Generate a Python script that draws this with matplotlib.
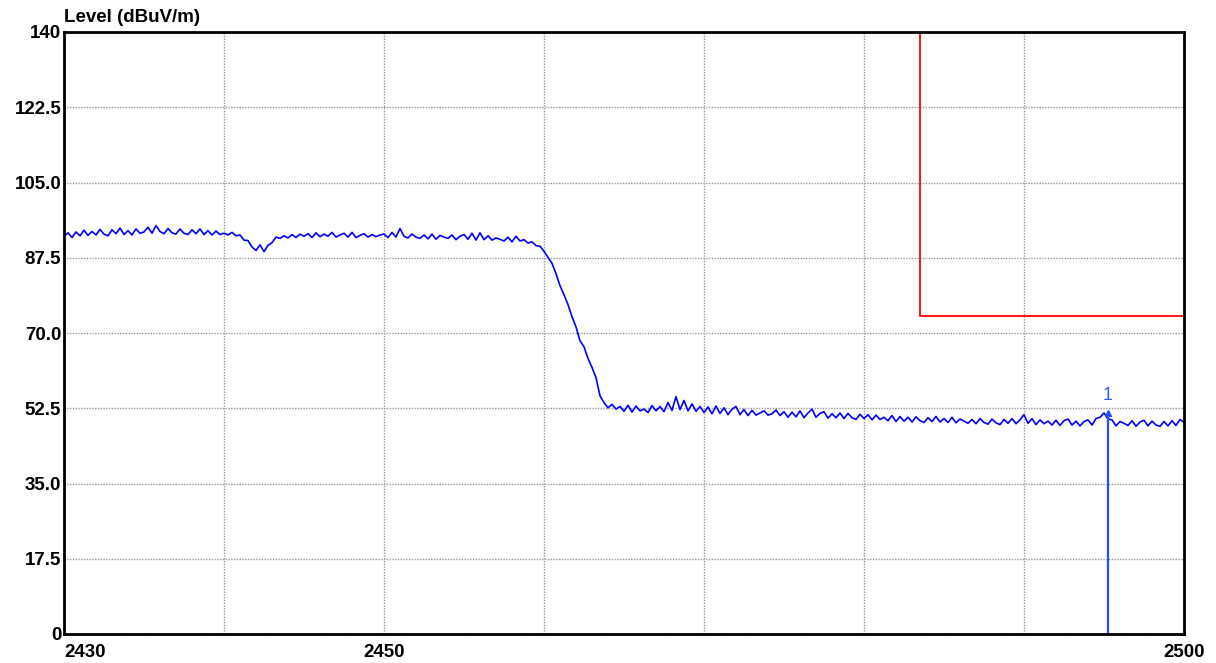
import numpy as np
import matplotlib.pyplot as plt

# Sweep: 2430-2500 MHz, one reading every 0.25 MHz
freq_start = 2430.0
freq_step = 0.25
level = [
    # 2430 - 2434.75
    92.4, 93.3, 92.2, 93.5, 92.6, 93.9, 92.7, 93.6, 92.8, 94.1, 93.0, 92.6, 94.0, 93.1, 94.4, 92.9, 93.8, 92.8, 94.2, 93.2,
    # 2435 - 2439.75
    93.5, 94.6, 93.2, 95.0, 93.6, 93.1, 94.3, 93.3, 93.0, 94.2, 93.2, 92.9, 94.0, 93.1, 94.2, 92.9, 93.8, 92.8, 93.7, 92.9,
    # 2440 - 2444.75
    93.2, 92.8, 93.4, 92.6, 92.8, 91.6, 91.5, 90.0, 89.2, 90.5, 88.9, 90.4, 91.0, 92.3, 92.0, 92.6, 92.1, 92.9, 92.2, 93.0,
    # 2445 - 2449.75
    92.5, 93.1, 92.2, 93.3, 92.4, 93.0, 92.5, 93.4, 92.3, 92.8, 93.2, 92.3, 93.4, 92.2, 92.7, 93.1, 92.3, 92.9, 92.4, 92.8,
    # 2450 - 2454.75
    93.0, 92.2, 93.4, 92.3, 94.3, 92.5, 92.1, 93.0, 92.3, 92.0, 92.8, 91.9, 93.0, 91.8, 92.7, 92.3, 92.0, 92.8, 91.7, 92.5,
    # 2455 - 2459.75
    92.9, 91.8, 93.2, 91.6, 93.3, 91.7, 92.6, 91.6, 92.1, 91.8, 91.4, 92.3, 91.2, 92.5, 91.4, 91.7, 90.9, 91.2, 90.3, 90.2,
    # 2460 - 2464.75
    89.0, 87.6, 86.2, 83.8, 81.0, 78.9, 76.6, 73.8, 71.4, 68.2, 66.8, 64.1, 62.0, 59.6, 55.4, 53.8, 52.6, 53.4, 52.3, 52.9,
    # 2465 - 2469.75
    51.8, 53.2, 51.6, 53.0, 51.9, 52.3, 51.5, 53.1, 51.9, 52.9, 51.7, 53.8, 52.0, 55.2, 52.2, 54.3, 51.9, 53.5, 51.8, 52.9,
    # 2470 - 2474.75
    51.5, 52.8, 51.2, 53.0, 51.3, 52.6, 51.0, 52.3, 52.9, 51.0, 52.2, 50.8, 52.0, 50.9, 51.4, 51.9, 50.9, 51.2, 52.1, 50.8,
    # 2475 - 2479.75
    51.7, 50.4, 51.6, 50.5, 51.9, 50.3, 51.4, 52.3, 50.4, 51.3, 51.7, 50.2, 51.2, 50.3, 51.4, 50.1, 51.3, 50.3, 49.9, 51.1,
    # 2480 - 2484.75
    50.1, 51.0, 49.8, 50.9, 49.9, 50.4, 49.6, 50.8, 49.4, 50.6, 49.5, 50.4, 49.3, 50.5, 49.6, 49.2, 50.3, 49.4, 50.6, 49.3,
    # 2485 - 2489.75
    50.1, 49.2, 50.4, 49.1, 50.0, 49.5, 49.0, 49.9, 48.9, 50.1, 49.2, 48.8, 50.0, 49.1, 48.7, 49.9, 49.0, 50.1, 48.9, 49.8,
    # 2490 - 2494.75
    51.0, 49.0, 50.1, 48.7, 49.8, 48.9, 49.5, 48.6, 49.7, 48.5, 49.6, 50.0, 48.6, 49.5, 48.4, 49.4, 49.8, 48.6, 50.1, 50.4,
    # 2495 - 2499.75
    51.4, 50.0, 49.8, 48.4, 49.4, 49.0, 48.5, 49.6, 48.3, 49.3, 49.7, 48.4, 49.5, 48.6, 48.3, 49.4, 48.4, 49.6, 48.5, 49.9,
    # 2500
    49.2,
]
freq = freq_start + freq_step * np.arange(len(level))

# limit line (restricted band)
limit_freq = [2483.5, 2483.5, 2500]
limit_level = [140, 74, 74]

# marker 1
marker_freq = 2495.25
marker_level = 51.4

y_ticks = [0, 17.5, 35.0, 52.5, 70.0, 87.5, 105.0, 122.5, 140]
y_labels = ['0', '17.5', '35.0', '52.5', '70.0', '87.5', '105.0', '122.5', '140']
x_ticks = [2430, 2440, 2450, 2460, 2470, 2480, 2490, 2500]
x_labels = ['2430', '', '2450', '', '', '', '', '2500']

plt.rcParams['font.family'] = ['Liberation Sans', 'DejaVu Sans']

fig = plt.figure(figsize=(12.16, 6.63), dpi=100)
ax = fig.add_axes([64 / 1216, 29 / 663, 1120 / 1216, 602 / 663])

ax.plot(freq, level, color='#0000ff', linewidth=1.2)
ax.plot(limit_freq, limit_level, color='#ff0000', linewidth=1.3)

ax.vlines(marker_freq, 0, marker_level, color='#2a4bff', linewidth=1.6)
ax.plot([marker_freq], [marker_level], marker='^', color='#2a4bff', markersize=4)
ax.text(marker_freq, marker_level + 2, '1', color='#3a5aff', fontsize=13,
        ha='center', va='bottom')

ax.set_xlim(2430, 2500)
ax.set_ylim(0, 140)
ax.set_xticks(x_ticks)
ax.set_xticklabels(x_labels, fontsize=13.5, fontweight='bold')
ax.set_yticks(y_ticks)
ax.set_yticklabels(y_labels, fontsize=13.5, fontweight='bold')
ax.tick_params(axis='y', length=0, pad=2)
ax.tick_params(axis='x', length=0, pad=7)
ax.get_xticklabels()[0].set_ha('left')

ax.grid(True, color='#999999', linestyle=(0, (1, 1)), linewidth=1)
for s in ax.spines.values():
    s.set_linewidth(2)
    s.set_color('black')

fig.text(64 / 1216, 1 - 18 / 663, 'Level (dBuV/m)', fontsize=13.5, fontweight='bold',
         ha='left', va='center')

fig.savefig('out.png', dpi=100)
